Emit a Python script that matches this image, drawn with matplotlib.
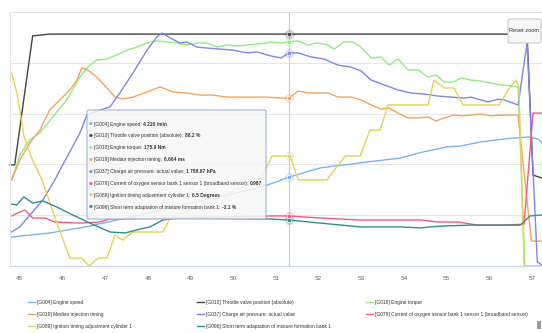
import matplotlib
matplotlib.use("Agg")
import matplotlib.pyplot as plt
import numpy as np
from matplotlib import font_manager
from matplotlib.patches import FancyBboxPatch, Rectangle
from matplotlib.text import Annotation

W, H = 542, 333

# Measuring block log, time in s; each channel scaled to % of the plot height
speed_t = [44.81, 45.70, 46.64, 47.81, 48.98, 50.16, 50.74, 51.30, 52.03, 52.97, 53.91, 54.44,
           55.01, 55.31, 55.78, 56.34, 56.91, 57.14, 57.23]
speed_v = [11.4, 13.0, 15.7, 20.1, 24.8, 29.1, 31.5, 35.0, 38.6, 40.6, 42.5, 44.9,
           46.9, 47.2, 48.8, 50.0, 50.8, 50.0, 48.4]

throttle_t = [44.77, 44.88, 45.30, 45.70, 51.30, 56.88, 57.02, 57.23]
throttle_v = [39.8, 39.8, 90.6, 91.3, 91.3, 91.3, 35.8, 34.6]

torque_t = [44.81, 45.00, 45.23, 45.47, 45.77, 46.10, 46.41, 46.57, 46.80, 47.04, 47.27, 47.51,
            47.74, 47.98, 48.21, 48.45, 48.68, 48.91, 49.15, 49.38, 49.62, 49.85, 50.09, 50.32,
            50.55, 50.79, 50.88, 51.12, 51.30, 51.52, 51.75, 51.98, 52.22, 52.36, 52.59, 52.80,
            52.99, 53.23, 53.46, 53.65, 53.86, 54.09, 54.33, 54.56, 54.75, 54.94, 55.15, 55.34,
            55.57, 55.80, 56.04, 56.27, 56.51, 56.67, 56.83, 57.23]
torque_v = [33.9, 43.7, 49.6, 52.4, 58.7, 65.4, 74.4, 78.0, 81.1, 81.5, 83.1, 85.0,
            86.2, 87.8, 88.6, 88.2, 87.8, 87.0, 87.8, 87.8, 86.2, 87.0, 86.6, 87.0,
            87.4, 87.8, 88.2, 87.8, 88.2, 88.6, 87.0, 87.8, 87.0, 85.4, 88.2, 88.2,
            86.2, 81.9, 82.3, 79.1, 81.5, 77.2, 77.2, 74.4, 75.2, 72.4, 72.4, 74.0,
            73.2, 72.8, 72.0, 71.3, 70.9, 70.5, 0.0, 0.0]

inj_t = [44.81, 45.00, 45.23, 45.47, 45.70, 45.94, 46.17, 46.34, 46.45, 46.59, 46.80, 47.04,
         47.23, 47.41, 47.65, 47.98, 48.28, 48.59, 48.91, 49.22, 49.52, 49.85, 50.16, 50.46,
         50.79, 51.12, 51.30, 51.52, 51.75, 51.98, 52.22, 52.45, 52.76, 52.99, 53.23, 53.46,
         53.65, 53.86, 54.09, 54.33, 54.56, 54.75, 54.94, 55.15, 55.38, 55.57, 55.80, 56.04,
         56.27, 56.67, 56.98, 57.23]
inj_v = [33.9, 41.7, 48.4, 53.5, 61.4, 65.4, 69.3, 73.2, 78.0, 77.2, 74.4, 70.1,
         66.5, 65.7, 66.5, 68.5, 70.5, 68.5, 68.1, 67.3, 67.3, 66.5, 66.5, 66.5,
         66.5, 66.1, 66.1, 68.9, 68.1, 68.1, 68.1, 66.5, 66.5, 65.4, 63.4, 61.8,
         62.2, 60.2, 58.3, 58.3, 58.7, 57.1, 58.3, 59.4, 59.1, 59.4, 59.8, 59.1,
         59.4, 59.4, 9.8, 9.8]

boost_t = [44.81, 45.00, 45.54, 45.82, 45.94, 46.41, 46.57, 46.87, 47.11, 47.34, 47.65, 47.98,
           48.21, 48.33, 48.52, 48.75, 48.91, 49.15, 49.38, 49.99, 50.32, 50.55, 50.79, 50.88,
           51.12, 51.30, 51.52, 51.82, 52.12, 52.45, 52.76, 52.99, 53.23, 53.53, 53.86, 54.16,
           54.47, 54.80, 55.10, 55.41, 55.57, 55.73, 55.97, 56.20, 56.34, 56.67, 56.88, 57.12,
           57.23]
boost_v = [13.4, 15.4, 26.0, 33.9, 37.8, 52.4, 59.4, 61.4, 62.6, 68.1, 76.0, 85.0,
           90.2, 91.7, 89.8, 87.8, 88.2, 86.2, 85.8, 85.0, 83.9, 84.3, 83.1, 82.7,
           81.9, 83.9, 83.9, 82.3, 81.5, 79.1, 78.3, 76.8, 73.2, 71.3, 69.3, 68.1,
           67.7, 66.9, 66.5, 66.1, 66.5, 65.7, 64.6, 65.7, 65.4, 63.4, 87.8, 1.6,
           0.4]

lambda_t = [44.81, 44.95, 45.12, 45.30, 45.59, 45.82, 46.41, 46.87, 47.11, 48.75, 50.88, 51.30,
            52.03, 52.97, 53.91, 54.40, 54.80, 55.26, 55.73, 56.34, 56.81, 57.02, 57.23]
lambda_v = [19.7, 20.9, 22.0, 18.9, 18.9, 17.3, 16.9, 17.3, 18.5, 18.9, 19.7, 19.7,
            18.9, 18.1, 18.1, 18.1, 17.3, 17.3, 16.1, 16.1, 16.5, 60.2, 60.2]

ign_t = [44.81, 44.93, 45.00, 45.09, 45.19, 45.30, 45.52, 45.87, 46.17, 46.45, 46.62, 46.83,
         47.04, 47.23, 47.41, 47.65, 48.35, 48.52, 49.57, 50.67, 50.91, 51.33, 51.52, 52.19,
         52.62, 52.97, 53.20, 53.44, 53.62, 54.56, 54.70, 54.94, 55.17, 55.38, 56.23, 56.44,
         56.62, 56.69, 56.81, 57.23]
ign_v = [76.0, 68.1, 61.4, 51.6, 46.5, 41.7, 33.9, 16.9, 3.1, 3.1, 0.0, 3.1,
         3.1, 12.2, 10.2, 13.4, 13.4, 18.9, 26.0, 35.0, 43.3, 43.3, 33.9, 33.9,
         43.3, 43.3, 53.5, 53.5, 63.4, 63.4, 73.2, 70.1, 70.1, 63.4, 63.4, 69.3,
         73.2, 70.5, 0.0, 0.0]

adapt_t = [44.81, 44.93, 45.09, 45.30, 45.54, 45.87, 46.24, 46.64, 47.11, 47.46, 47.74, 48.05,
           48.35, 48.68, 50.88, 51.30, 52.03, 52.97, 53.91, 54.37, 54.84, 55.55, 56.25, 56.72,
           56.95, 57.23]
adapt_v = [24.4, 24.0, 27.2, 24.8, 25.6, 23.2, 20.1, 16.9, 13.4, 13.0, 14.2, 15.4,
           18.1, 18.9, 18.5, 18.1, 16.9, 15.4, 15.4, 15.0, 15.7, 16.1, 16.1, 16.1,
           19.7, 20.1]

names = ["[G004] Engine speed",
         "[G010] Throttle valve position (absolute)",
         "[G018] Engine torque",
         "[G019] Median injection timing",
         "[G037] Charge air pressure: actual value",
         "[G079] Current of oxygen sensor bank 1 sensor 1 (broadband sensor)",
         "[G089] Ignition timing adjustment cylinder 1",
         "[G096] Short term adaptation of mixture formation bank 1"]
hover_values = ["4 220 /min", "88.2 %", "175.9 Nm", "6.664 ms", "1 788.67 hPa",
                "0.987", "6.5 Degrees", "-3.1 %"]
colors = ["#7cb5ec", "#434348", "#90ed7d", "#f7a35c", "#8085e9", "#f15c80", "#e4d354", "#2b908f"]
x_ticks = list(range(45, 58))
cursor_t = 51.30

series = [(speed_t, speed_v), (throttle_t, throttle_v), (torque_t, torque_v), (inj_t, inj_v),
          (boost_t, boost_v), (lambda_t, lambda_v), (ign_t, ign_v), (adapt_t, adapt_v)]

installed = {f.name for f in font_manager.fontManager.ttflist}
base = "Liberation Sans Narrow" if "Liberation Sans Narrow" in installed else "Liberation Sans"
shrink = 1.0 if base.endswith("Narrow") else 0.82
plt.rcParams["font.family"] = [base, "DejaVu Sans"]


def fx(px):
    return px / W


def fy(py):
    return 1 - py / H


fig = plt.figure(figsize=(W / 100, H / 100), dpi=100)
ax = fig.add_axes([fx(10), fy(266), fx(542) - fx(10), fy(12) - fy(266)])
ax.set_xlim(44.77, 57.23)
ax.set_ylim(0, 100)

lines = []
for (t, v), c, name in zip(series, colors, names):
    ln, = ax.plot(t, v, color=c, lw=1.0, label=name, clip_on=False, zorder=2)
    lines.append(ln)

# crosshair + hover markers
ax.axvline(cursor_t, color="#cccccc", lw=0.8, zorder=1)
for (t, v), c in zip(series, colors):
    yv = np.interp(cursor_t, t, v)
    ax.scatter([cursor_t], [yv], s=45, color=c, alpha=0.25, lw=0, zorder=4, clip_on=False)
    ax.scatter([cursor_t], [yv], s=9, color=c, edgecolors="white", linewidths=0.4, zorder=5,
               clip_on=False)

ax.set_yticks(range(0, 101, 20))
ax.yaxis.grid(True, color="#e6e6e6", lw=0.8)
ax.set_axisbelow(True)
ax.tick_params(axis="y", left=False, labelleft=False)
ax.set_xticks(x_ticks)
ax.tick_params(axis="x", length=0, pad=7, labelsize=5.6 * shrink, labelcolor="#666666")
for s in ("top", "right"):
    ax.spines[s].set_visible(False)
ax.spines["bottom"].set_color("#ccd6eb")
ax.spines["bottom"].set_linewidth(0.8)
ax.spines["left"].set_color("#e6e6e6")
ax.spines["left"].set_linewidth(0.8)

# shared tooltip
tip_fs = 4.3 * shrink
fig.add_artist(FancyBboxPatch((fx(87), fy(219)), fx(266) - fx(87), fy(110) - fy(219),
                              boxstyle="round,pad=0,rounding_size=0.004",
                              transform=fig.transFigure, facecolor=(0.97, 0.97, 0.97, 0.85),
                              edgecolor="#9fb6d4", lw=0.8, zorder=10))
for i, (name, val, c) in enumerate(zip(names, hover_values, colors)):
    py = 124 + i * 11.9
    fig.text(fx(91), fy(py), "\u25cf", color=c, fontsize=3.2, ha="center", va="center",
             family=["DejaVu Sans"], zorder=11)
    lab = fig.text(fx(94), fy(py), name + ":", fontsize=tip_fs, color="#333333",
                   va="center", zorder=11)
    fig.add_artist(Annotation(val, xy=(1, 0), xycoords=lab, xytext=(1.2, 0),
                              textcoords="offset points", va="bottom", ha="left",
                              fontsize=tip_fs, fontweight="bold", color="#333333", zorder=11))

# reset zoom button
fig.add_artist(FancyBboxPatch((fx(508), fy(43)), fx(541) - fx(508), fy(19) - fy(43),
                              boxstyle="round,pad=0,rounding_size=0.004",
                              transform=fig.transFigure, facecolor="#f7f7f7",
                              edgecolor="#cccccc", lw=0.8, zorder=10))
fig.text(fx(524.5), fy(31), "Reset zoom", ha="center", va="center", fontsize=4.9 * shrink,
         color="#333333", zorder=11)

# legend, three columns laid out row by row
leg_fs = 4.3 * shrink
col_x = [28, 197, 366]
for ci in range(3):
    idx = list(range(ci, len(names), 3))
    fig.legend([lines[i] for i in idx], [names[i] for i in idx], loc="upper left",
               bbox_to_anchor=(fx(col_x[ci]), fy(300)), bbox_transform=fig.transFigure,
               frameon=False, fontsize=leg_fs, handlelength=1.4, handletextpad=0.5,
               labelspacing=1.4, borderpad=0, borderaxespad=0, labelcolor="#333333")

fig.add_artist(Rectangle((fx(537), fy(329)), 4 / W, 8 / H, transform=fig.transFigure,
                         facecolor="#9a9a9a", edgecolor="none"))

fig.savefig("out.png", dpi=100, facecolor="white")
